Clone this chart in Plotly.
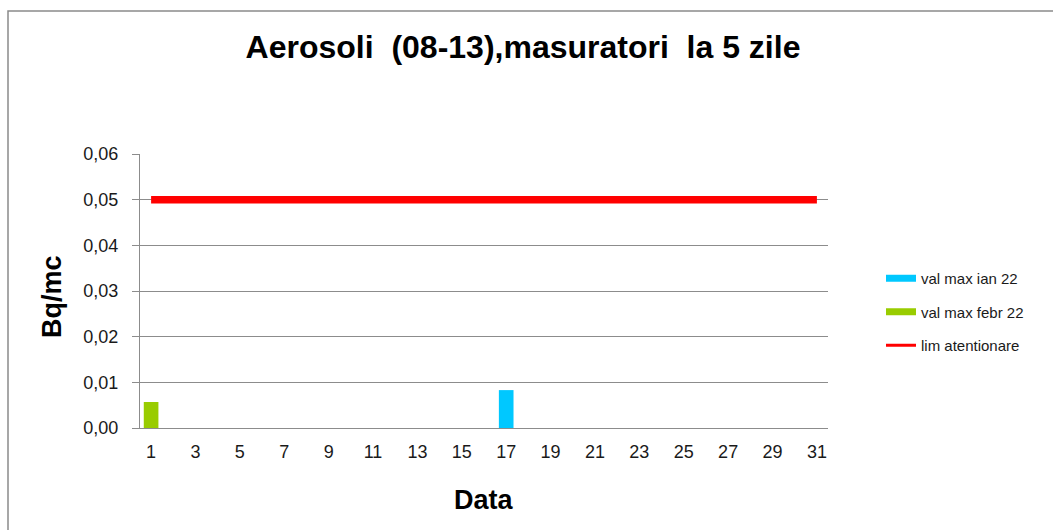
import plotly.graph_objects as go

# Data
days = list(range(1, 32))
tick_days = [1, 3, 5, 7, 9, 11, 13, 15, 17, 19, 21, 23, 25, 27, 29, 31]
ian_days = [17]
ian_vals = [0.0083]
febr_days = [1]
febr_vals = [0.0057]
lim_vals = [0.05, 0.05, 0.05, 0.05, 0.05, 0.05, 0.05, 0.05, 0.05, 0.05,
            0.05, 0.05, 0.05, 0.05, 0.05, 0.05, 0.05, 0.05, 0.05, 0.05,
            0.05, 0.05, 0.05, 0.05, 0.05, 0.05, 0.05, 0.05, 0.05, 0.05, 0.05]
y_ticks = [0, 0.01, 0.02, 0.03, 0.04, 0.05, 0.06]

BLUE = "#00C8FF"
GREEN = "#99CC00"
RED = "#FF0000"
GRID = "#8c8c8c"
FONT = "Liberation Sans, Arial, sans-serif"

W, H = 1053, 530
L, R, T, B = 140, 225, 154, 102
pw, ph = W - L - R, H - T - B

def px_x(p):
    return (p - L) / pw

def px_y(p):
    return (H - B - p) / ph

fig = go.Figure()

fig.add_trace(go.Bar(x=ian_days, y=ian_vals, width=0.66, marker=dict(color=BLUE, line=dict(width=0)),
                     showlegend=False, hoverinfo="x+y"))
fig.add_trace(go.Bar(x=febr_days, y=febr_vals, width=0.66, marker=dict(color=GREEN, line=dict(width=0)),
                     showlegend=False, hoverinfo="x+y"))
fig.add_trace(go.Scatter(x=days, y=lim_vals, mode="lines", line=dict(color=RED, width=7.5),
                         showlegend=False))

# legend entries
fig.add_trace(go.Scatter(x=[None], y=[None], mode="lines", line=dict(color=BLUE, width=7),
                         name="val max ian 22", legendgroup="a"))
fig.add_trace(go.Scatter(x=[None], y=[None], mode="lines", line=dict(color=GREEN, width=7),
                         name="val max febr 22", legendgroup="b"))
fig.add_trace(go.Scatter(x=[None], y=[None], mode="lines", line=dict(color=RED, width=3),
                         name="lim atentionare", legendgroup="c"))

fig.update_layout(
    width=W, height=H,
    margin=dict(l=L, r=R, t=T, b=B),
    paper_bgcolor="white", plot_bgcolor="white",
    separators=",.",
    barmode="overlay",
    font=dict(family=FONT, color="#1a1a1a"),
    title=dict(text="<b>Aerosoli  (08-13),masuratori  la 5 zile</b>", x=523 / W, xanchor="center",
               y=1 - 47 / H, yanchor="middle", font=dict(size=32, color="#000000", family=FONT)),
    xaxis=dict(range=[0.5, 31.5], tickvals=tick_days, ticktext=[str(d) for d in tick_days],
               showgrid=False, showline=True, linecolor=GRID, linewidth=1, ticks="",
               tickfont=dict(size=18), ticklabelstandoff=7, zeroline=False),
    yaxis=dict(range=[0, 0.06], tickvals=y_ticks, tickformat=".2f", showgrid=True, gridcolor=GRID,
               gridwidth=1, showline=True, linecolor=GRID, linewidth=1, ticks="outside",
               ticklen=7, tickcolor=GRID, tickfont=dict(size=18), ticklabelstandoff=10, zeroline=False),
    legend=dict(x=px_x(881), y=px_y(262), xanchor="left", yanchor="top",
                traceorder="grouped", tracegroupgap=11, font=dict(size=15, family=FONT, color="#1a1a1a"),
                bgcolor="rgba(0,0,0,0)", itemwidth=30),
    annotations=[
        dict(text="<b>Data</b>", x=0.5, y=px_y(500), xref="paper", yref="paper",
             xanchor="center", yanchor="middle", showarrow=False, font=dict(size=27, color="#000000")),
        dict(text="<b>Bq/mc</b>", x=px_x(52), y=px_y(297), xref="paper", yref="paper",
             xanchor="center", yanchor="middle", textangle=-90, showarrow=False,
             font=dict(size=27, color="#000000")),
    ],
    shapes=[
        dict(type="rect", xref="paper", yref="paper", x0=px_x(8), x1=px_x(1070),
             y0=px_y(560), y1=px_y(11), line=dict(color="#8a8a8a", width=1.5), layer="below"),
    ],
)

fig.write_html("out.html", config={"displayModeBar": False},
               post_script="document.body.style.margin='0';")
